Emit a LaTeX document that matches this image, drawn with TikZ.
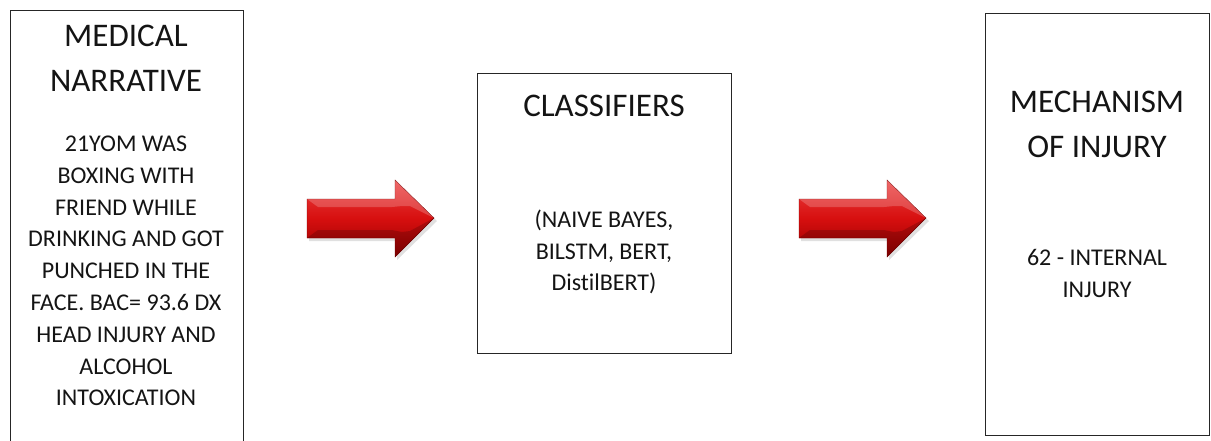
\documentclass[tikz,border=0pt]{standalone}
\usepackage{fontspec}
\setmainfont{Carlito}[Ligatures=NoCommon]
\definecolor{txt}{HTML}{141414}
\definecolor{arrtop}{RGB}{235,65,65}
\definecolor{arrmid}{RGB}{215,15,15}
\definecolor{arrbot}{RGB}{150,0,0}
\begin{document}
\begin{tikzpicture}[x=1pt,y=-1pt,
  box/.style={draw=black!85, line width=1.3pt, anchor=north west, inner sep=0pt},
  ttl/.style={text=txt, align=center, inner sep=0pt, font=\fontsize{33}{45}\selectfont},
  body/.style={text=txt, align=center, inner sep=0pt, font=\fontsize{24}{31.8}\selectfont},
  bigarrow/.style={top color=arrtop, bottom color=arrbot, middle color=arrmid, draw=arrbot!80!black, line width=0.4pt, line join=miter}
]
\clip (0,0) rectangle (1211,440);
% boxes
\node[box, minimum width=233pt, minimum height=460pt] (nar) at (9.5,9.5) {};
\node[box, minimum width=254pt, minimum height=280pt] (cls) at (477,73) {};
\node[box, minimum width=224pt, minimum height=422pt] (moi) at (985,13) {};
% texts
\node[ttl] (narT) at (126,58.5) {MEDICAL\\NARRATIVE};
\node[body] (narB) at (126,271) {21YOM WAS\\BOXING WITH\\FRIEND WHILE\\DRINKING AND GOT\\PUNCHED IN THE\\FACE. BAC= 93.6 DX\\HEAD INJURY AND\\ALCOHOL\\INTOXICATION};
\node[ttl] (clsT) at (604,106) {CLASSIFIERS};
\node[body] (clsB) at (604,252) {(NAIVE BAYES,\\BILSTM, BERT,\\DistilBERT)};
\node[ttl] (moiT) at (1097,124) {MECHANISM\\OF INJURY};
\node[body] (moiB) at (1097,273.5) {62 - INTERNAL\\INJURY};
% block arrows
\foreach \dx/\nm in {0/a1,492/a2}{
  \begin{scope}[xshift=\dx]
    \coordinate (\nm tip) at (434,218);
    \fill[black,opacity=0.12] (309,202) -- (397,202) -- (397,183) -- (437,221) -- (397,260) -- (397,241) -- (309,241) -- cycle;
    \path[bigarrow] (307,199) -- (395,199) -- (395,180) -- (\nm tip) -- (395,257) -- (395,238) -- (307,238) -- cycle;
    \fill[white,opacity=0.2] (307,199) -- (395,199) -- (395,180) -- (\nm tip) -- (410,206) -- (402,206) -- (392,207) -- (318,207) -- cycle;
    \fill[black,opacity=0.18] (307,238) -- (318,230) -- (392,230) -- (402,232) -- (410,231) -- (\nm tip) -- (395,257) -- (395,238) -- cycle;
  \end{scope}
}
\end{tikzpicture}
\end{document}
